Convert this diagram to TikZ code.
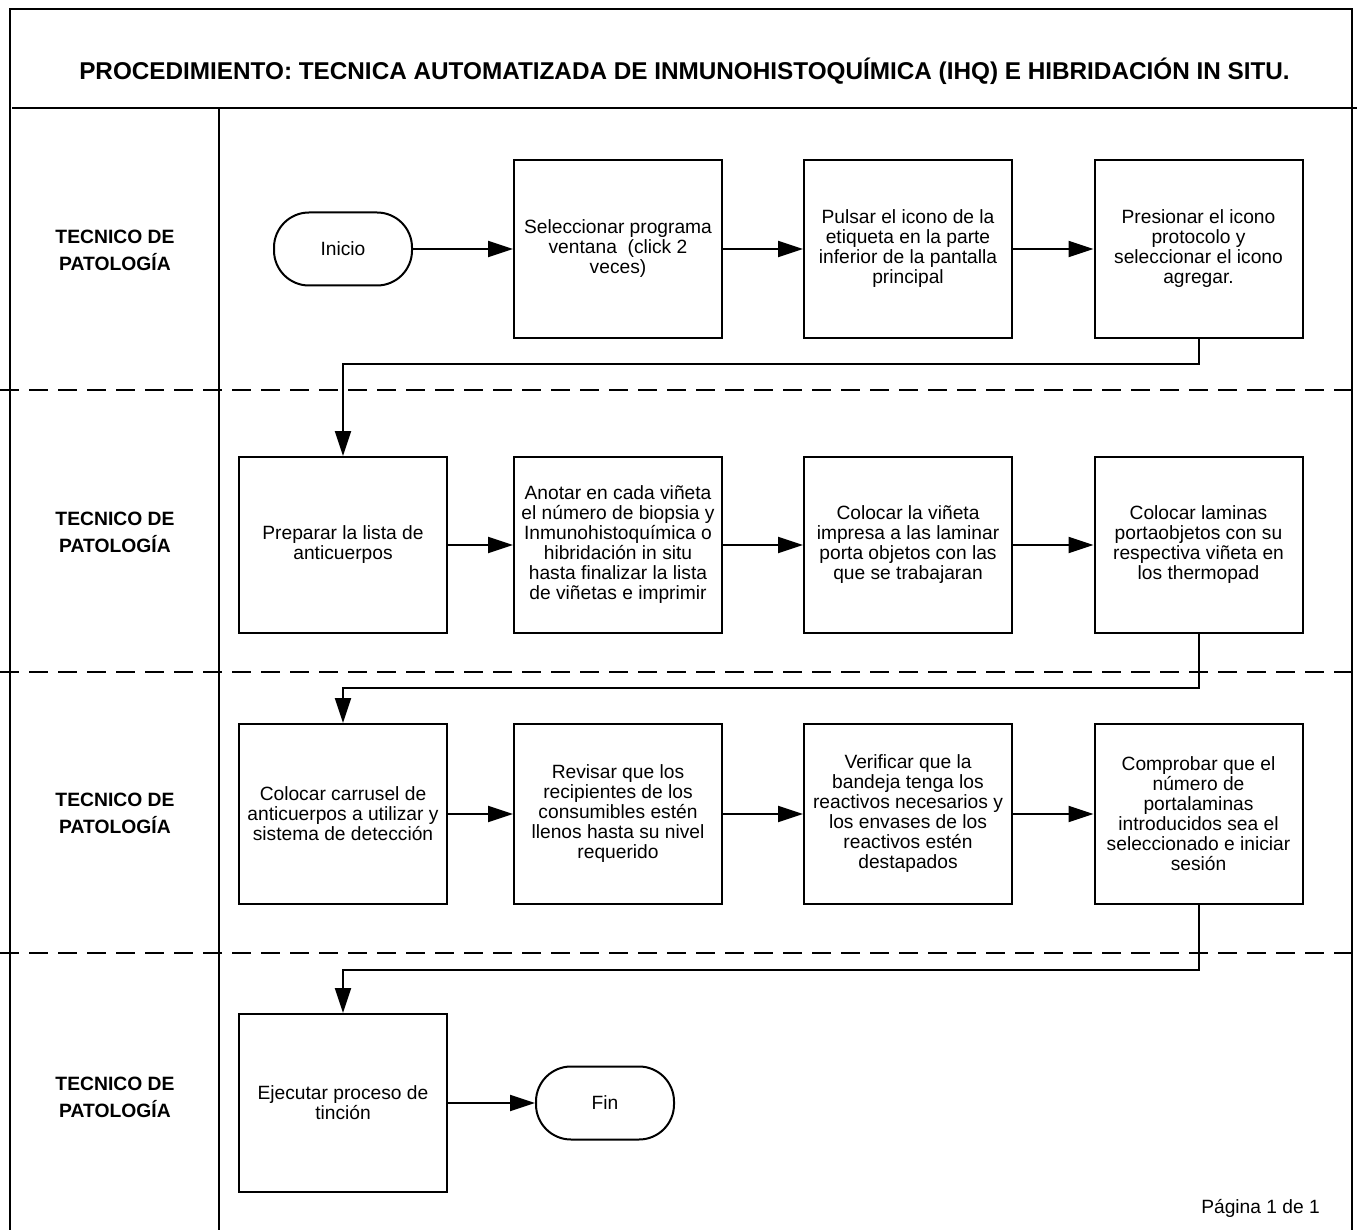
\documentclass[tikz,border=0pt]{standalone}
\usepackage{fontspec}
\setmainfont{Liberation Sans}
\usetikzlibrary{arrows.meta}
\begin{document}
\begin{tikzpicture}[x=1pt,y=-1pt,
  stepbox/.style={draw, line width=2pt, minimum width=208pt, minimum height=178pt,
    align=center, inner sep=3pt, font=\fontsize{19.2}{20}\selectfont},
  term/.style={draw, line width=2pt, rounded corners=35pt, minimum width=138pt,
    minimum height=73pt, font=\fontsize{19.2}{20}\selectfont},
  lane/.style={align=center, font=\bfseries\fontsize{19.3}{27}\selectfont},
  flow/.style={line width=2pt, -{Triangle[length=25pt,width=16pt]}},
  frame/.style={line width=2.2pt},
  sep/.style={line width=2.4pt, dash pattern=on 19pt off 10pt}]

\useasboundingbox (0,0) rectangle (1357,1230);

% outer frame, title band and lane column
\draw[frame] (10,1230) -- (10,9) -- (1352,9) -- (1352,1230);
\draw[frame] (12,108) -- (1357,108);
\draw[frame] (219,108) -- (219,1230);

% dashed lane separators
\draw[sep] (0,390) -- (1357,390);
\draw[sep] (0,672) -- (1357,672);
\draw[sep] (0,953) -- (1357,953);

% title
\node[font=\bfseries\fontsize{24.3}{26}\selectfont] (title) at (684.5,71)
  {PROCEDIMIENTO: TECNICA AUTOMATIZADA DE INMUNOHISTOQUÍMICA (IHQ) E HIBRIDACIÓN IN SITU.};

% lane labels
\node[lane] (l1) at (115,250) {TECNICO DE\\PATOLOGÍA};
\node[lane] (l2) at (115,532) {TECNICO DE\\PATOLOGÍA};
\node[lane] (l3) at (115,813) {TECNICO DE\\PATOLOGÍA};
\node[lane] (l4) at (115,1097) {TECNICO DE\\PATOLOGÍA};

% lane 1
\node[term] (inicio) at (343,249) {Inicio};
\node[stepbox] (b12) at (618,249) {Seleccionar programa\\ventana\ \ (click 2\\veces)};
\node[stepbox] (b13) at (908,249) {Pulsar el icono de la\\etiqueta en la parte\\inferior de la pantalla\\principal};
\node[stepbox] (b14) at (1198.5,249) {Presionar el icono\\protocolo y\\seleccionar el icono\\agregar.};

% lane 2
\node[stepbox, minimum height=176pt] (b21) at (343,545) {Preparar la lista de\\anticuerpos};
\node[stepbox, minimum height=176pt] (b22) at (618,545) {Anotar en cada viñeta\\el número de biopsia y\\Inmunohistoquímica o\\hibridación in situ\\hasta finalizar la lista\\de viñetas e imprimir};
\node[stepbox, minimum height=176pt] (b23) at (908,545) {Colocar la viñeta\\impresa a las laminar\\porta objetos con las\\que se trabajaran};
\node[stepbox, minimum height=176pt] (b24) at (1198.5,545) {Colocar laminas\\portaobjetos con su\\respectiva viñeta en\\los thermopad};

% lane 3
\node[stepbox, minimum height=180pt] (b31) at (343,814) {Colocar carrusel de\\anticuerpos a utilizar y\\sistema de detección};
\node[stepbox, minimum height=180pt] (b32) at (618,814) {Revisar que los\\recipientes de los\\consumibles estén\\llenos hasta su nivel\\requerido};
\node[stepbox, minimum height=180pt] (b33) at (908,814) {Verificar que la\\bandeja tenga los\\reactivos necesarios y\\los envases de los\\reactivos estén\\destapados};
\node[stepbox, minimum height=180pt] (b34) at (1198.5,814) {Comprobar que el\\número de\\portalaminas\\introducidos sea el\\seleccionado e iniciar\\sesión};

% lane 4
\node[stepbox] (b41) at (343,1103) {Ejecutar proceso de\\tinción};
\node[term] (fin) at (605,1103) {Fin};

% page number
\node[anchor=base east, inner sep=0pt, font=\fontsize{19.2}{20}\selectfont] (pag) at (1320,1213) {Página 1 de 1};

% connectors
\draw[flow] (inicio) -- (b12);
\draw[flow] (b12) -- (b13);
\draw[flow] (b13) -- (b14);
\draw[flow] (b14.south) -- ++(0,25) -| (b21.north);
\draw[flow] (b21) -- (b22);
\draw[flow] (b22) -- (b23);
\draw[flow] (b23) -- (b24);
\draw[flow] (b24.south) -- ++(0,54) -| (b31.north);
\draw[flow] (b31) -- (b32);
\draw[flow] (b32) -- (b33);
\draw[flow] (b33) -- (b34);
\draw[flow] (b34.south) -- ++(0,65) -| (b41.north);
\draw[flow] (b41) -- (fin);
\end{tikzpicture}
\end{document}
